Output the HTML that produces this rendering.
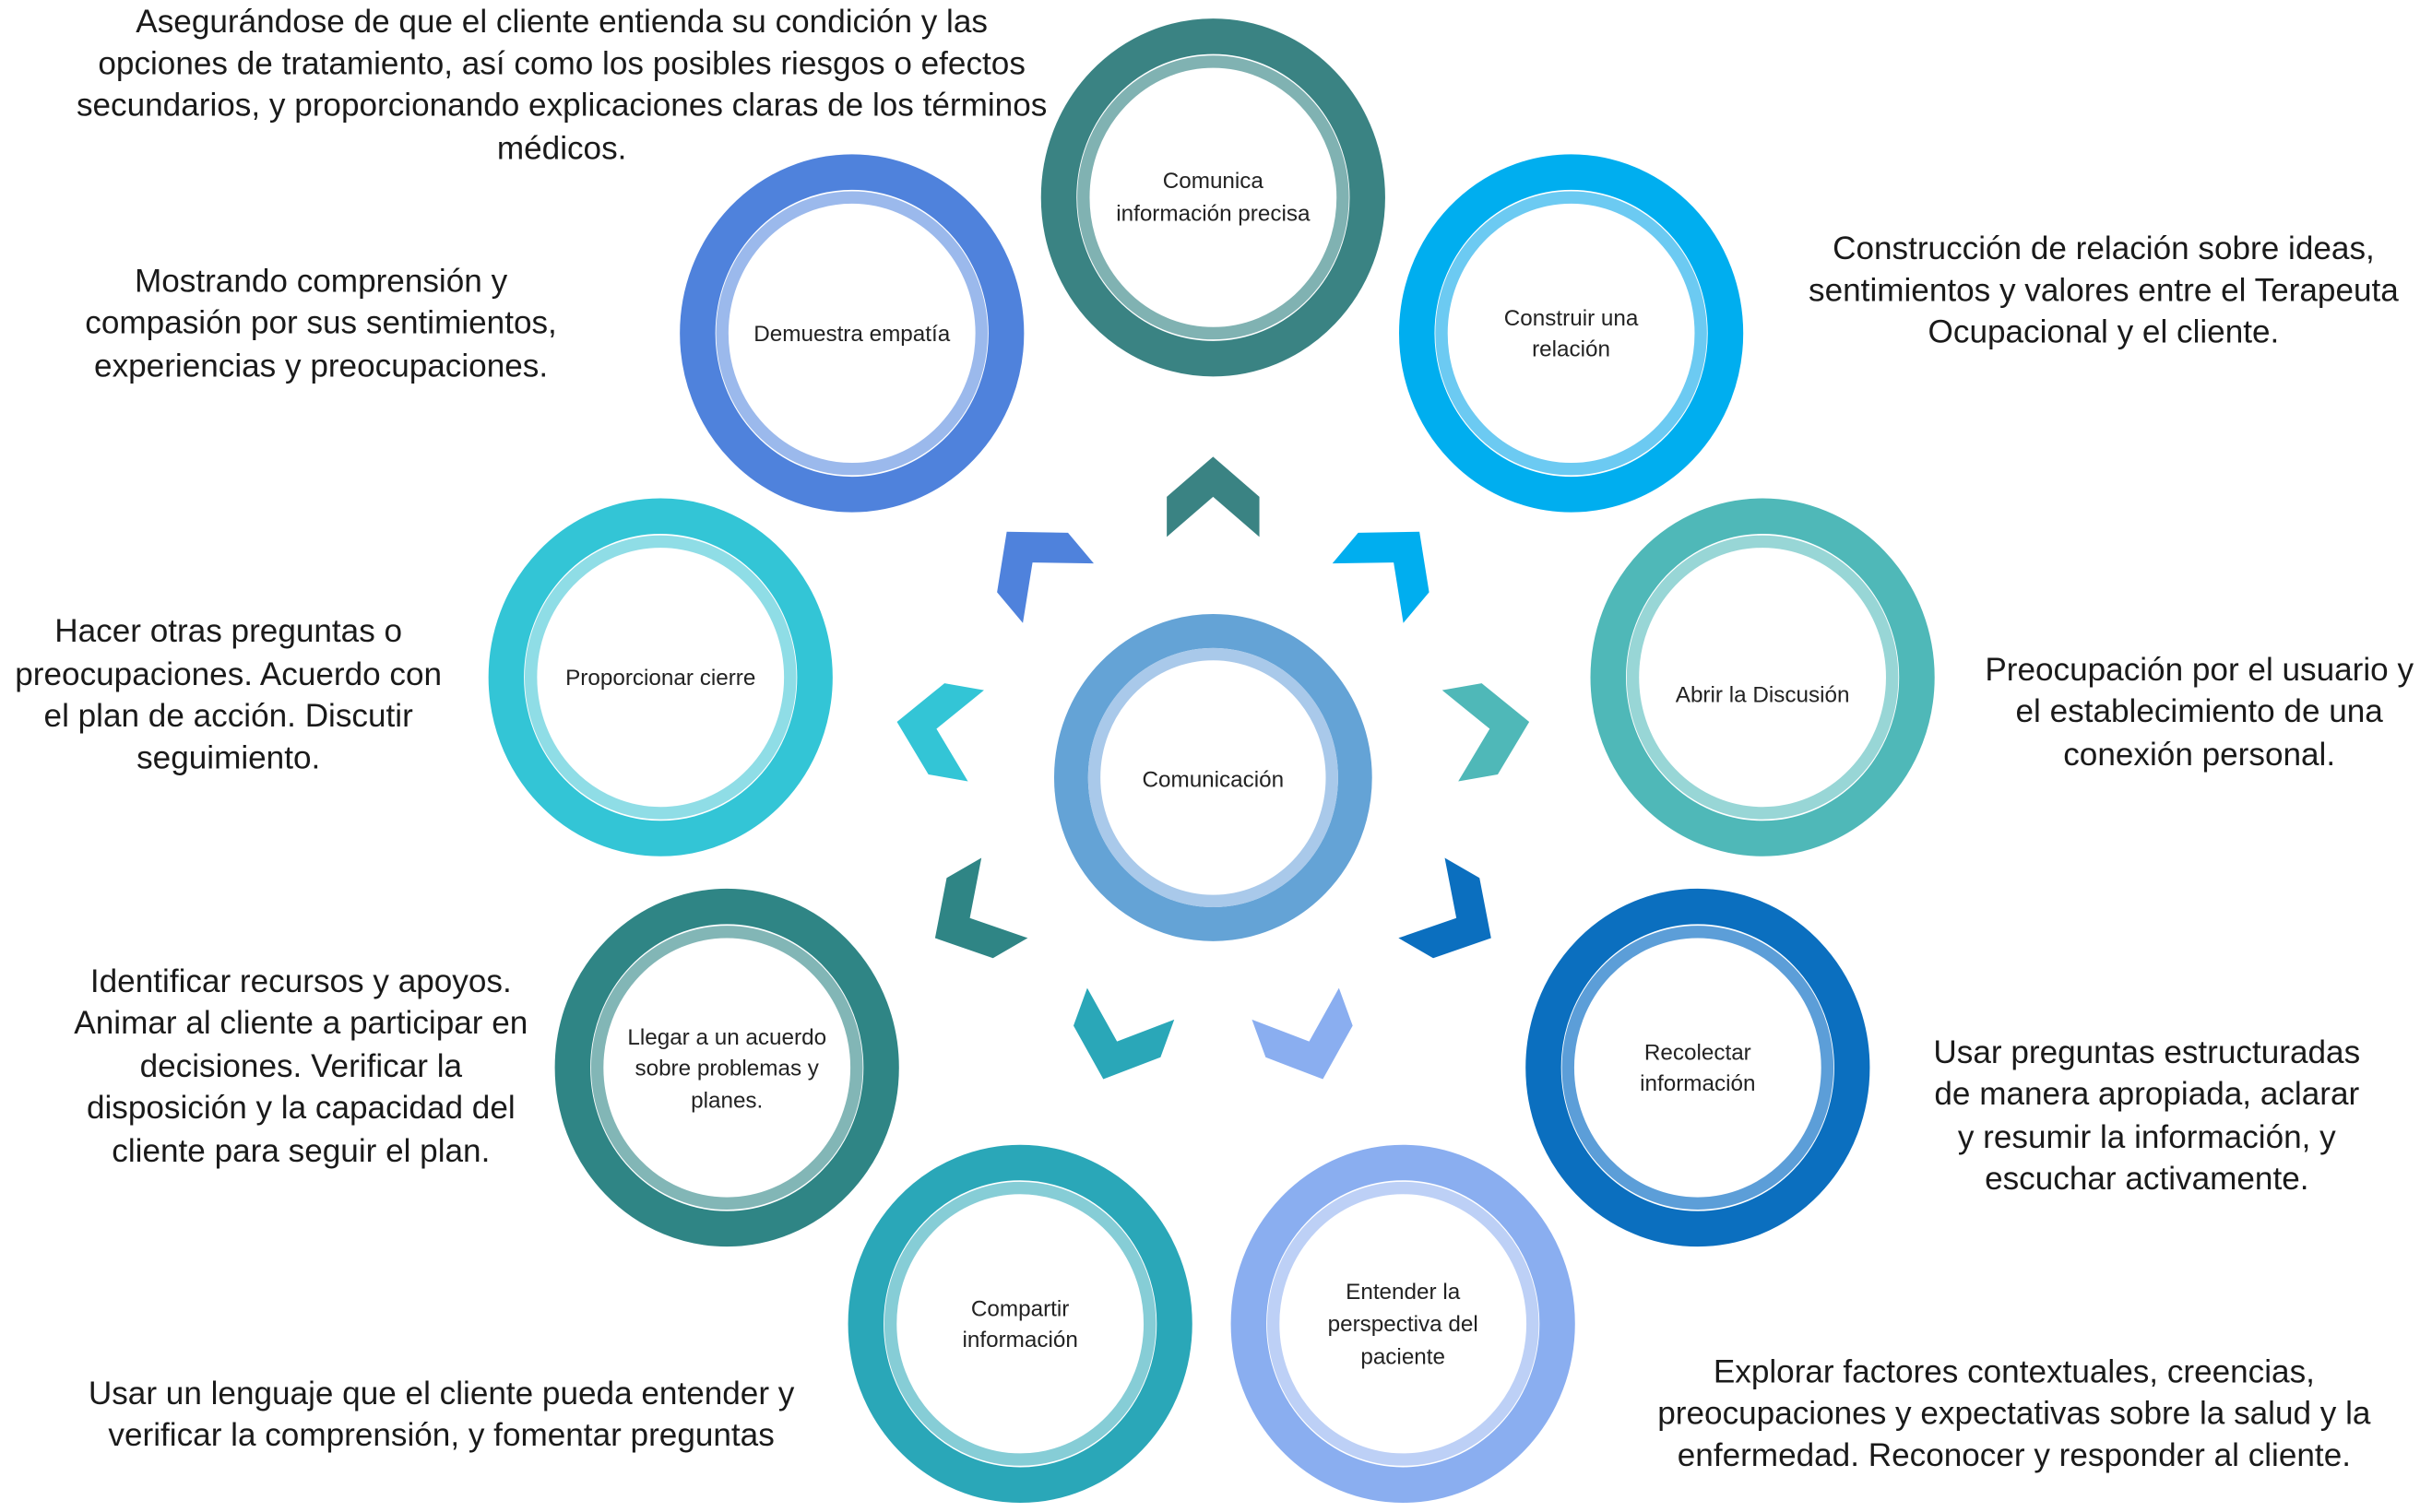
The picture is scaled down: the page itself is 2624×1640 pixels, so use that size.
<!DOCTYPE html>
<html><head><meta charset="utf-8"><style>
html,body{margin:0;padding:0;background:#fff;}
svg{display:block;}
text{font-family:"Liberation Sans",Arial,sans-serif;fill:#1a1a1a;}
.d{font-size:21px;text-anchor:middle;}
.l{font-size:14.5px;text-anchor:middle;fill:#222;}
</style></head><body>
<svg width="2624" height="1640" viewBox="0 0 1568 980" xmlns="http://www.w3.org/2000/svg">
<defs>
<polygon id="chev" points="0,-26 30,0 30,26 0,0 -30,26 -30,0"/>
</defs>
<rect width="1568" height="980" fill="#fff"/>
<g fill="none">
<ellipse cx="786" cy="128" rx="100" ry="104.5" stroke="#3a8383" stroke-width="23"/>
<ellipse cx="786" cy="128" rx="84" ry="88" stroke="#80b2b2" stroke-width="8"/>
<ellipse cx="1018" cy="216" rx="100" ry="104.5" stroke="#00aeef" stroke-width="23"/>
<ellipse cx="1018" cy="216" rx="84" ry="88" stroke="#6ccaf2" stroke-width="8"/>
<ellipse cx="1142" cy="439" rx="100" ry="104.5" stroke="#4fb8b8" stroke-width="23"/>
<ellipse cx="1142" cy="439" rx="84" ry="88" stroke="#98d6d6" stroke-width="8"/>
<ellipse cx="1100" cy="692" rx="100" ry="104.5" stroke="#0b6fbf" stroke-width="23"/>
<ellipse cx="1100" cy="692" rx="84" ry="88" stroke="#5c9ed8" stroke-width="8"/>
<ellipse cx="909" cy="858" rx="100" ry="104.5" stroke="#8aaef0" stroke-width="23"/>
<ellipse cx="909" cy="858" rx="84" ry="88" stroke="#bdd0f6" stroke-width="8"/>
<ellipse cx="661" cy="858" rx="100" ry="104.5" stroke="#2aa7b8" stroke-width="23"/>
<ellipse cx="661" cy="858" rx="84" ry="88" stroke="#86cdd6" stroke-width="8"/>
<ellipse cx="471" cy="692" rx="100" ry="104.5" stroke="#2f8585" stroke-width="23"/>
<ellipse cx="471" cy="692" rx="84" ry="88" stroke="#82b6b6" stroke-width="8"/>
<ellipse cx="428" cy="439" rx="100" ry="104.5" stroke="#33c5d6" stroke-width="23"/>
<ellipse cx="428" cy="439" rx="84" ry="88" stroke="#8fdde6" stroke-width="8"/>
<ellipse cx="552" cy="216" rx="100" ry="104.5" stroke="#4f82dc" stroke-width="23"/>
<ellipse cx="552" cy="216" rx="84" ry="88" stroke="#9bb9ec" stroke-width="8"/>
<ellipse cx="786" cy="504" rx="92" ry="95" stroke="#64a3d6" stroke-width="22"/>
<ellipse cx="786" cy="504" rx="77" ry="80" stroke="#a9c9ea" stroke-width="8"/>
</g>
<g transform="translate(786,504)">
<use href="#chev" fill="#3a8383" transform="rotate(0) translate(0,-182)"/>
<use href="#chev" fill="#00aeef" transform="rotate(40) translate(0,-182)"/>
<use href="#chev" fill="#4fb8b8" transform="rotate(80) translate(0,-182)"/>
<use href="#chev" fill="#0b6fbf" transform="rotate(120) translate(0,-182)"/>
<use href="#chev" fill="#8aaef0" transform="rotate(160) translate(0,-182)"/>
<use href="#chev" fill="#2aa7b8" transform="rotate(200) translate(0,-182)"/>
<use href="#chev" fill="#2f8585" transform="rotate(240) translate(0,-182)"/>
<use href="#chev" fill="#33c5d6" transform="rotate(280) translate(0,-182)"/>
<use href="#chev" fill="#4f82dc" transform="rotate(320) translate(0,-182)"/>
</g>
<text class="l" x="786" y="122">Comunica</text>
<text class="l" x="786" y="143">información precisa</text>
<text class="l" x="1018" y="211">Construir una</text>
<text class="l" x="1018" y="231">relación</text>
<text class="l" x="1142" y="455">Abrir la Discusión</text>
<text class="l" x="1100" y="687">Recolectar</text>
<text class="l" x="1100" y="707">información</text>
<text class="l" x="909" y="842">Entender la</text>
<text class="l" x="909" y="863">perspectiva del</text>
<text class="l" x="909" y="884">paciente</text>
<text class="l" x="661" y="853">Compartir</text>
<text class="l" x="661" y="873">información</text>
<text class="l" x="471" y="677">Llegar a un acuerdo</text>
<text class="l" x="471" y="697">sobre problemas y</text>
<text class="l" x="471" y="718">planes.</text>
<text class="l" x="428" y="444">Proporcionar cierre</text>
<text class="l" x="552" y="221">Demuestra empatía</text>
<text class="l" x="786" y="510">Comunicación</text>

<text class="d" x="364" y="21">Asegurándose de que el cliente entienda su condición y las</text>
<text class="d" x="364" y="48">opciones de tratamiento, así como los posibles riesgos o efectos</text>
<text class="d" x="364" y="75">secundarios, y proporcionando explicaciones claras de los términos</text>
<text class="d" x="364" y="103">médicos.</text>

<text class="d" x="208" y="189">Mostrando comprensión y</text>
<text class="d" x="208" y="216">compasión por sus sentimientos,</text>
<text class="d" x="208" y="244">experiencias y preocupaciones.</text>

<text class="d" x="1363" y="168">Construcción de relación sobre ideas,</text>
<text class="d" x="1363" y="195">sentimientos y valores entre el Terapeuta</text>
<text class="d" x="1363" y="222">Ocupacional y el cliente.</text>

<text class="d" x="148" y="416">Hacer otras preguntas o</text>
<text class="d" x="148" y="444">preocupaciones. Acuerdo con</text>
<text class="d" x="148" y="471">el plan de acción. Discutir</text>
<text class="d" x="148" y="498">seguimiento.</text>

<text class="d" x="1425" y="441">Preocupación por el usuario y</text>
<text class="d" x="1425" y="468">el establecimiento de una</text>
<text class="d" x="1425" y="496">conexión personal.</text>

<text class="d" x="195" y="643">Identificar recursos y apoyos.</text>
<text class="d" x="195" y="670">Animar al cliente a participar en</text>
<text class="d" x="195" y="698">decisiones. Verificar la</text>
<text class="d" x="195" y="725">disposición y la capacidad del</text>
<text class="d" x="195" y="753">cliente para seguir el plan.</text>

<text class="d" x="1391" y="689">Usar preguntas estructuradas</text>
<text class="d" x="1391" y="716">de manera apropiada, aclarar</text>
<text class="d" x="1391" y="744">y resumir la información, y</text>
<text class="d" x="1391" y="771">escuchar activamente.</text>

<text class="d" x="286" y="910">Usar un lenguaje que el cliente pueda entender y</text>
<text class="d" x="286" y="937">verificar la comprensión, y fomentar preguntas</text>

<text class="d" x="1305" y="896">Explorar factores contextuales, creencias,</text>
<text class="d" x="1305" y="923">preocupaciones y expectativas sobre la salud y la</text>
<text class="d" x="1305" y="950">enfermedad. Reconocer y responder al cliente.</text>
</svg>
</body></html>
